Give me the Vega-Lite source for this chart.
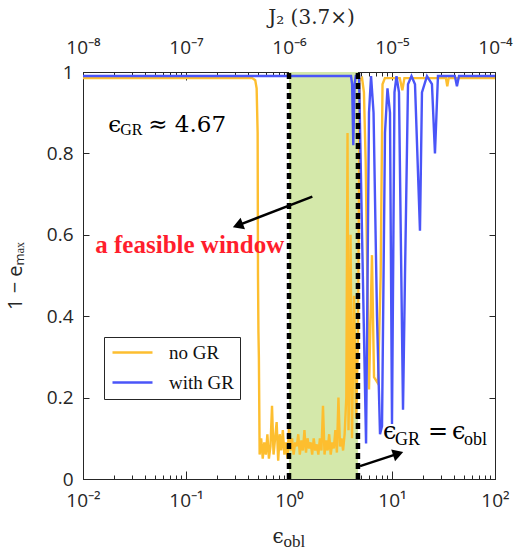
{
  "$schema": "https://vega.github.io/schema/vega-lite/v6.json",
  "width": 412,
  "height": 407,
  "autosize": {"type": "none"},
  "padding": {"left": 83, "top": 72, "right": 23, "bottom": 78},
  "background": "white",
  "config": {
    "view": {"stroke": "#262626", "strokeWidth": 1},
    "font": "Open Sans",
    "axis": {"labelFont": "Open Sans", "labelFontSize": 18, "labelColor": "#262626", "tickColor": "#262626", "domainColor": "#262626", "grid": false, "titleFontWeight": "normal", "titleColor": "#262626", "tickWidth": 1}
  },
  "datasets": {
    "win": [{"lo": 1, "hi": 4.67}],
    "vlines": [{"x": 1}, {"x": 4.67}],
    "curves": [
      {"s": "no GR", "x": 0.01, "y": 0.985}, {"s": "no GR", "x": 0.2, "y": 0.985}, {"s": "no GR", "x": 0.44, "y": 0.985}, {"s": "no GR", "x": 0.47, "y": 0.98}, {"s": "no GR", "x": 0.485, "y": 0.96}, {"s": "no GR", "x": 0.496, "y": 0.85}, {"s": "no GR", "x": 0.5, "y": 0.5}, {"s": "no GR", "x": 0.505, "y": 0.36}, {"s": "no GR", "x": 0.51, "y": 0.3},
      {"s": "no GR", "x": 0.5188, "y": 0.06}, {"s": "no GR", "x": 0.537, "y": 0.1}, {"s": "no GR", "x": 0.5559, "y": 0.05}, {"s": "no GR", "x": 0.5754, "y": 0.09}, {"s": "no GR", "x": 0.5957, "y": 0.06}, {"s": "no GR", "x": 0.6166, "y": 0.11}, {"s": "no GR", "x": 0.6383, "y": 0.05}, {"s": "no GR", "x": 0.6607, "y": 0.08}, {"s": "no GR", "x": 0.6839, "y": 0.18}, {"s": "no GR", "x": 0.7079, "y": 0.06}, {"s": "no GR", "x": 0.7328, "y": 0.1}, {"s": "no GR", "x": 0.7586, "y": 0.14}, {"s": "no GR", "x": 0.7852, "y": 0.045}, {"s": "no GR", "x": 0.8128, "y": 0.11}, {"s": "no GR", "x": 0.8414, "y": 0.07}, {"s": "no GR", "x": 0.871, "y": 0.12}, {"s": "no GR", "x": 0.9016, "y": 0.06}, {"s": "no GR", "x": 0.9333, "y": 0.09}, {"s": "no GR", "x": 0.9661, "y": 0.05}, {"s": "no GR", "x": 1.0, "y": 0.13}, {"s": "no GR", "x": 1.0351, "y": 0.07}, {"s": "no GR", "x": 1.0715, "y": 0.1}, {"s": "no GR", "x": 1.1092, "y": 0.06}, {"s": "no GR", "x": 1.1482, "y": 0.09}, {"s": "no GR", "x": 1.1885, "y": 0.08}, {"s": "no GR", "x": 1.2303, "y": 0.11}, {"s": "no GR", "x": 1.2735, "y": 0.06}, {"s": "no GR", "x": 1.3183, "y": 0.095}, {"s": "no GR", "x": 1.3646, "y": 0.07}, {"s": "no GR", "x": 1.4125, "y": 0.12}, {"s": "no GR", "x": 1.4622, "y": 0.065}, {"s": "no GR", "x": 1.5136, "y": 0.1}, {"s": "no GR", "x": 1.5668, "y": 0.075}, {"s": "no GR", "x": 1.6218, "y": 0.09}, {"s": "no GR", "x": 1.6788, "y": 0.06}, {"s": "no GR", "x": 1.7378, "y": 0.1}, {"s": "no GR", "x": 1.7989, "y": 0.07}, {"s": "no GR", "x": 1.8621, "y": 0.085}, {"s": "no GR", "x": 1.9275, "y": 0.06}, {"s": "no GR", "x": 1.9953, "y": 0.1}, {"s": "no GR", "x": 2.0654, "y": 0.07}, {"s": "no GR", "x": 2.138, "y": 0.18}, {"s": "no GR", "x": 2.2131, "y": 0.06}, {"s": "no GR", "x": 2.2909, "y": 0.095}, {"s": "no GR", "x": 2.3714, "y": 0.07}, {"s": "no GR", "x": 2.4547, "y": 0.11}, {"s": "no GR", "x": 2.541, "y": 0.06}, {"s": "no GR", "x": 2.6303, "y": 0.09}, {"s": "no GR", "x": 2.7227, "y": 0.075}, {"s": "no GR", "x": 2.8184, "y": 0.12}, {"s": "no GR", "x": 2.9174, "y": 0.065}, {"s": "no GR", "x": 3.02, "y": 0.2}, {"s": "no GR", "x": 3.1261, "y": 0.08}, {"s": "no GR", "x": 3.2359, "y": 0.1}, {"s": "no GR", "x": 3.3497, "y": 0.07}, {"s": "no GR", "x": 3.4674, "y": 0.11},
      {"s": "no GR", "x": 3.6, "y": 0.2}, {"s": "no GR", "x": 3.7, "y": 0.85}, {"s": "no GR", "x": 3.78, "y": 0.12}, {"s": "no GR", "x": 3.9, "y": 0.3}, {"s": "no GR", "x": 3.96, "y": 0.6}, {"s": "no GR", "x": 4.09, "y": 0.1}, {"s": "no GR", "x": 4.28, "y": 0.45}, {"s": "no GR", "x": 4.48, "y": 0.15}, {"s": "no GR", "x": 4.68, "y": 0.35}, {"s": "no GR", "x": 4.85, "y": 0.98}, {"s": "no GR", "x": 5.12, "y": 0.985}, {"s": "no GR", "x": 5.34, "y": 0.95}, {"s": "no GR", "x": 5.55, "y": 0.78}, {"s": "no GR", "x": 5.98, "y": 0.22}, {"s": "no GR", "x": 6.39, "y": 0.55}, {"s": "no GR", "x": 6.69, "y": 0.25}, {"s": "no GR", "x": 7.3, "y": 0.235}, {"s": "no GR", "x": 7.76, "y": 0.5}, {"s": "no GR", "x": 8.09, "y": 0.97}, {"s": "no GR", "x": 8.53, "y": 0.985}, {"s": "no GR", "x": 11.9, "y": 0.985}, {"s": "no GR", "x": 12.6, "y": 0.955}, {"s": "no GR", "x": 13.2, "y": 0.985}, {"s": "no GR", "x": 33.4, "y": 0.985}, {"s": "no GR", "x": 34.4, "y": 0.965}, {"s": "no GR", "x": 35.5, "y": 0.985}, {"s": "no GR", "x": 100, "y": 0.985},
      {"s": "with GR", "x": 0.01, "y": 0.99}, {"s": "with GR", "x": 4.0, "y": 0.99}, {"s": "with GR", "x": 4.1, "y": 0.97}, {"s": "with GR", "x": 4.21, "y": 0.82}, {"s": "with GR", "x": 4.33, "y": 0.97}, {"s": "with GR", "x": 4.45, "y": 0.99}, {"s": "with GR", "x": 4.79, "y": 0.99}, {"s": "with GR", "x": 5.12, "y": 0.6}, {"s": "with GR", "x": 5.6, "y": 0.087}, {"s": "with GR", "x": 5.98, "y": 0.9}, {"s": "with GR", "x": 6.26, "y": 0.99}, {"s": "with GR", "x": 6.62, "y": 0.9}, {"s": "with GR", "x": 7.15, "y": 0.4}, {"s": "with GR", "x": 7.65, "y": 0.11}, {"s": "with GR", "x": 8.0, "y": 0.13}, {"s": "with GR", "x": 8.55, "y": 0.85}, {"s": "with GR", "x": 9.04, "y": 0.96}, {"s": "with GR", "x": 9.56, "y": 0.9}, {"s": "with GR", "x": 10.0, "y": 0.135}, {"s": "with GR", "x": 10.57, "y": 0.95}, {"s": "with GR", "x": 11.06, "y": 0.99}, {"s": "with GR", "x": 11.69, "y": 0.95}, {"s": "with GR", "x": 12.79, "y": 0.17}, {"s": "with GR", "x": 13.37, "y": 0.5}, {"s": "with GR", "x": 14.3, "y": 0.97}, {"s": "with GR", "x": 15.46, "y": 0.99}, {"s": "with GR", "x": 16.72, "y": 0.97}, {"s": "with GR", "x": 18.69, "y": 0.61}, {"s": "with GR", "x": 19.54, "y": 0.95}, {"s": "with GR", "x": 21.85, "y": 0.99}, {"s": "with GR", "x": 24.43, "y": 0.97}, {"s": "with GR", "x": 26.13, "y": 0.8}, {"s": "with GR", "x": 27.94, "y": 0.99}, {"s": "with GR", "x": 40.8, "y": 0.99}, {"s": "with GR", "x": 42.7, "y": 0.965}, {"s": "with GR", "x": 44.7, "y": 0.99}, {"s": "with GR", "x": 100, "y": 0.99}
    ],
    "arrows": [{"x": 1.685, "y": 0.694, "x2": 0.3187, "y2": 0.623}, {"x": 4.894, "y": 0.0317, "x2": 11.48, "y2": 0.0622}],
    "egr": [{"x": 0.01759, "y": 0.8515, "a": "ϵ", "b": "GR", "c": "≈ 4.67"}],
    "eq": [{"x": 8.178, "y": 0.0991, "a": "ϵ", "b": "GR", "c": "=", "d": "ϵ", "e": "obl"}],
    "xt": [{"x": 0.69, "y": -0.1576, "a": "ϵ", "b": "obl"}],
    "fw": [{"x": 0.01316, "y": 0.5547, "t": "a feasible window"}]
  },
  "layer": [
    {
      "data": {"name": "win"},
      "mark": {"type": "rect", "color": "#D4E8AA"},
      "encoding": {
        "x": {"field": "lo", "type": "quantitative", "scale": {"type": "log", "domain": [0.01, 100]},
          "axis": {"orient": "bottom", "title": null,
            "values": [0.01,0.02,0.03,0.04,0.05,0.06,0.07,0.08,0.09,0.1,0.2,0.3,0.4,0.5,0.6,0.7,0.8,0.9,1,2,3,4,5,6,7,8,9,10,20,30,40,50,60,70,80,90,100],
            "labelExpr": "abs(log(datum.value)/LN10 - round(log(datum.value)/LN10)) < 0.01 ? '10' + ['⁻²','⁻¹','⁰','¹','²'][round(log(datum.value)/LN10)+2] : ''",
            "tickSize": {"condition": {"test": "abs(log(datum.value)/LN10 - round(log(datum.value)/LN10)) < 0.01", "value": -8}, "value": -4},
            "labelPadding": 20, "labelOverlap": false, "labelFlush": false, "labelFontSize": 19}},
        "x2": {"field": "hi"},
        "y": {"datum": 0, "type": "quantitative", "scale": {"domain": [0, 1], "nice": false},
          "axis": {"orient": "left", "values": [0, 0.2, 0.4, 0.6, 0.8, 1], "format": "~g", "tickSize": -6, "labelPadding": 16, "labelFontSize": 19, "title": "1 − eₘₐₓ", "titleFontSize": 20, "titleFont": "Open Sans", "titlePadding": 21}},
        "y2": {"datum": 1}
      }
    },
    {
      "data": {"name": "curves"},
      "mark": {"type": "line", "strokeWidth": 2.4},
      "encoding": {
        "x": {"field": "x", "type": "quantitative", "scale": {"type": "log", "domain": [0.01, 100]}, "axis": null},
        "y": {"field": "y", "type": "quantitative", "scale": {"domain": [0, 1], "nice": false}, "axis": null},
        "color": {"field": "s", "type": "nominal",
          "scale": {"domain": ["no GR", "with GR"], "range": ["#FDBE2F", "#4A55F8"]},
          "legend": {"orient": "none", "legendX": 21, "legendY": 265, "title": null, "strokeColor": "#262626", "fillColor": "white", "padding": 6, "cornerRadius": 0,
            "symbolType": "M-2.857,0H2.857", "symbolSize": 196, "symbolStrokeWidth": 2.5, "symbolOffset": 13,
            "labelFont": "Liberation Serif", "labelFontSize": 19, "labelColor": "#111111", "labelOffset": 27, "rowPadding": 10}}
      }
    },
    {
      "data": {"name": "vlines"},
      "mark": {"type": "rule", "color": "black", "strokeWidth": 4.5, "strokeDash": [6, 4]},
      "encoding": {
        "x": {"field": "x", "type": "quantitative", "scale": {"type": "log", "domain": [0.01, 100]},
          "axis": {"orient": "top",
            "values": [0.01,0.02,0.03,0.04,0.05,0.06,0.07,0.08,0.09,0.1,0.2,0.3,0.4,0.5,0.6,0.7,0.8,0.9,1,2,3,4,5,6,7,8,9,10,20,30,40,50,60,70,80,90,100],
            "labelExpr": "abs(log(datum.value)/LN10 - round(log(datum.value)/LN10)) < 0.01 ? '10' + ['⁻⁸','⁻⁷','⁻⁶','⁻⁵','⁻⁴'][round(log(datum.value)/LN10)+2] : ''",
            "tickSize": {"condition": {"test": "abs(log(datum.value)/LN10 - round(log(datum.value)/LN10)) < 0.01", "value": -8}, "value": -4},
            "labelPadding": 23, "labelOverlap": false, "labelFlush": false, "labelFontSize": 19,
            "title": "J₂  (3.7×)", "titleFont": "DejaVu Serif", "titleFontSize": 20, "titleX": 228, "titleY": -49, "titleAlign": "center", "titleBaseline": "alphabetic"}},
        "y": {"datum": 0, "type": "quantitative", "scale": {"domain": [0, 1], "nice": false},
          "axis": {"orient": "right", "values": [0, 0.2, 0.4, 0.6, 0.8, 1], "labels": false, "tickSize": -6, "title": null}},
        "y2": {"datum": 1}
      }
    },
    {
      "data": {"name": "arrows"},
      "mark": {"type": "rule", "color": "black", "strokeWidth": 2.5},
      "encoding": {
        "x": {"field": "x", "type": "quantitative", "scale": {"type": "log", "domain": [0.01, 100]}, "axis": null},
        "y": {"field": "y", "type": "quantitative", "scale": {"domain": [0, 1], "nice": false}, "axis": null},
        "x2": {"field": "x2"},
        "y2": {"field": "y2"}
      }
    },
    {
      "data": {"values": [{"x": 0.3187, "y": 0.623}]},
      "mark": {"type": "point", "shape": "triangle-left", "filled": true, "color": "black", "size": 150, "angle": 339, "opacity": 1},
      "encoding": {
        "x": {"field": "x", "type": "quantitative", "scale": {"type": "log", "domain": [0.01, 100]}, "axis": null},
        "y": {"field": "y", "type": "quantitative", "scale": {"domain": [0, 1], "nice": false}, "axis": null}
      }
    },
    {
      "data": {"values": [{"x": 11.48, "y": 0.0622}]},
      "mark": {"type": "point", "shape": "triangle-right", "filled": true, "color": "black", "size": 150, "angle": 342, "opacity": 1},
      "encoding": {
        "x": {"field": "x", "type": "quantitative", "scale": {"type": "log", "domain": [0.01, 100]}, "axis": null},
        "y": {"field": "y", "type": "quantitative", "scale": {"domain": [0, 1], "nice": false}, "axis": null}
      }
    },
    {
      "data": {"name": "fw"},
      "mark": {"type": "text", "align": "left", "baseline": "alphabetic", "font": "Liberation Serif", "fontWeight": "bold", "fontSize": 25, "color": "#FF1E2D"},
      "encoding": {
        "x": {"field": "x", "type": "quantitative", "scale": {"type": "log", "domain": [0.01, 100]}, "axis": null},
        "y": {"field": "y", "type": "quantitative", "scale": {"domain": [0, 1], "nice": false}, "axis": null},
        "text": {"field": "t"}
      }
    },
    {
      "data": {"name": "egr"},
      "encoding": {
        "x": {"field": "x", "type": "quantitative", "scale": {"type": "log", "domain": [0.01, 100]}, "axis": null},
        "y": {"field": "y", "type": "quantitative", "scale": {"domain": [0, 1], "nice": false}, "axis": null}
      },
      "layer": [
        {"mark": {"type": "text", "align": "left", "baseline": "alphabetic", "font": "DejaVu Serif", "fontSize": 23, "color": "black"}, "encoding": {"text": {"field": "a"}}},
        {"mark": {"type": "text", "align": "left", "baseline": "alphabetic", "font": "Liberation Serif", "fontSize": 16, "color": "black", "dx": 12, "dy": 3}, "encoding": {"text": {"field": "b"}}},
        {"mark": {"type": "text", "align": "left", "baseline": "alphabetic", "font": "DejaVu Serif", "fontSize": 23, "color": "black", "dx": 40}, "encoding": {"text": {"field": "c"}}}
      ]
    },
    {
      "data": {"name": "eq"},
      "encoding": {
        "x": {"field": "x", "type": "quantitative", "scale": {"type": "log", "domain": [0.01, 100]}, "axis": null},
        "y": {"field": "y", "type": "quantitative", "scale": {"domain": [0, 1], "nice": false}, "axis": null}
      },
      "layer": [
        {"mark": {"type": "text", "align": "left", "baseline": "alphabetic", "font": "DejaVu Serif", "fontSize": 24, "color": "black"}, "encoding": {"text": {"field": "a"}}},
        {"mark": {"type": "text", "align": "left", "baseline": "alphabetic", "font": "Liberation Serif", "fontSize": 18, "color": "black", "dx": 12, "dy": 6}, "encoding": {"text": {"field": "b"}}},
        {"mark": {"type": "text", "align": "left", "baseline": "alphabetic", "font": "DejaVu Serif", "fontSize": 24, "color": "black", "dx": 45}, "encoding": {"text": {"field": "c"}}},
        {"mark": {"type": "text", "align": "left", "baseline": "alphabetic", "font": "DejaVu Serif", "fontSize": 24, "color": "black", "dx": 69}, "encoding": {"text": {"field": "d"}}},
        {"mark": {"type": "text", "align": "left", "baseline": "alphabetic", "font": "Liberation Serif", "fontSize": 18, "color": "black", "dx": 81, "dy": 6}, "encoding": {"text": {"field": "e"}}}
      ]
    },
    {
      "data": {"name": "xt"},
      "encoding": {
        "x": {"field": "x", "type": "quantitative", "scale": {"type": "log", "domain": [0.01, 100]}, "axis": null},
        "y": {"field": "y", "type": "quantitative", "scale": {"domain": [0, 1], "nice": false}, "axis": null}
      },
      "layer": [
        {"mark": {"type": "text", "align": "left", "baseline": "alphabetic", "font": "DejaVu Serif", "fontSize": 20, "color": "#262626"}, "encoding": {"text": {"field": "a"}}},
        {"mark": {"type": "text", "align": "left", "baseline": "alphabetic", "font": "Liberation Serif", "fontSize": 17, "color": "#262626", "dx": 11, "dy": 4}, "encoding": {"text": {"field": "b"}}}
      ]
    }
  ],
  "resolve": {"axis": {"x": "independent", "y": "independent"}}
}
